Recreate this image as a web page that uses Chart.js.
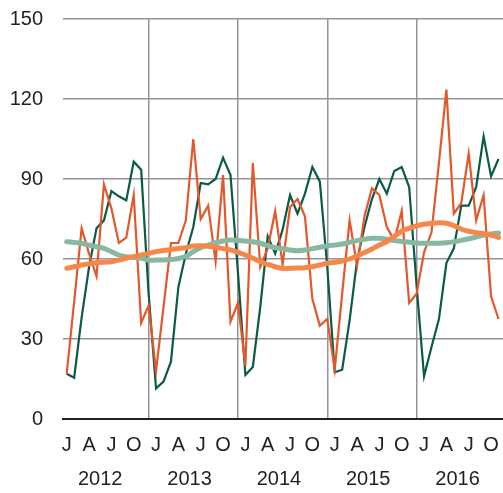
<!DOCTYPE html>
<html>
<head>
<meta charset="utf-8">
<script src="https://cdn.jsdelivr.net/npm/chart.js@4"></script>
<style>
  html, body { margin: 0; padding: 0; background: #ffffff; overflow: hidden; width: 503px; height: 493px; }
  #wrap { width: 520px; height: 493px; }
</style>
</head>
<body>
<div id="wrap"><canvas id="c" width="520" height="493"></canvas></div>
<script>
// ---- Data ----
const monthLetters = ['J','F','M','A','M','J','J','A','S','O','N','D'];
const years = ['2012','2013','2014','2015','2016'];
const months = [];
years.forEach(() => monthLetters.forEach(m => months.push(m)));

const seriesDarkGreen = [17,15.5,38,57,71.5,74.5,85.5,83.5,82,96.5,93.5,47,
  11.5,14,21.5,49.5,62,72,88.5,88,90,98,91.5,55,
  16.5,19.5,42,68.5,62,71,84,77,84.5,94.5,89,57,
  17.5,18.5,37,59.5,72,82.5,90,84.5,93,94.5,87,50,
  16,27,37.5,58.5,64,80,80,87,106,91,97.5,null];

const seriesOrange = [17,44,71.5,62,53.5,88,79,66,68,84,36,42.5,
  18,42,66,66,74.5,105,75,80,59,91.5,36.5,43.5,
  20,96,57,64,78,58,79.5,82.5,76,45,35,37.5,
  18.5,47,74.5,57.5,76,86.5,84,72,67,78,43.5,47,
  62.5,70,96,123.5,77,81,99.5,74.5,84,46,37.5,null];

const trendGreen = [66.5,66.2,65.9,65.2,64.6,64,62.75,61.5,60.9,60.6,60.25,59.6,
  59.6,59.6,59.8,60.2,61,62.75,64.25,65.25,66.1,66.75,67.1,66.9,
  66.75,66.5,65.9,65,64.2,63.9,63.4,63.1,63.4,63.9,64.4,64.9,
  65.25,65.6,66.25,66.9,67.4,67.75,67.75,67.4,66.9,66.6,66.25,66,
  65.9,65.9,65.9,66.1,66.5,67,67.6,68.25,69,69.4,69.75,null];

const trendOrange = [56.5,57.1,57.75,58.2,58.6,58.8,59,59.6,60.25,60.9,61.5,62.1,
  62.75,63.2,63.6,63.9,64.25,64.9,65,64.75,64.4,63.9,63.4,62.5,
  61.5,60.25,59,58,57.1,56.5,56.5,56.6,56.75,57.1,57.75,58.4,
  58.75,59.25,60,61.1,62.4,63.75,65.25,66.5,68.4,70.5,71.5,72.4,
  73,73.4,73.6,73.4,72.5,71.25,70.4,69.9,69.5,69,68.1,null];

const yTicks = [0,30,60,90,120,150];
const yearCenters = [4.5,16.5,28.5,40.5,52.5];

// ---- Chart ----
const font = { family: '"Liberation Sans", Arial, Helvetica, sans-serif', size: 20 };
const gridGray = '#949498';
const textColor = '#231f20';

new Chart(document.getElementById('c'), {
  type: 'line',
  data: {
    labels: months,
    datasets: [
      { data: trendOrange, borderColor: '#f5874a', borderWidth: 5, tension: 0.4, pointRadius: 0, borderCapStyle: 'round', borderJoinStyle: 'round' },
      { data: trendGreen, borderColor: '#88b8a1', borderWidth: 5, tension: 0.4, pointRadius: 0, borderCapStyle: 'round', borderJoinStyle: 'round' },
      { data: seriesOrange, borderColor: '#e4572a', borderWidth: 2.2, tension: 0, pointRadius: 0 },
      { data: seriesDarkGreen, borderColor: '#0b5a43', borderWidth: 2.2, tension: 0, pointRadius: 0 }
    ]
  },
  options: {
    responsive: false,
    animation: false,
    devicePixelRatio: 1,
    layout: { padding: { top: 19, right: 7, bottom: 2, left: 0 } },
    plugins: { legend: { display: false }, tooltip: { enabled: false } },
    scales: {
      x: {
        type: 'category',
        offset: true,
        afterFit: axis => { axis.height = 36; },
        grid: {
          offset: false,
          drawTicks: false,
          lineWidth: 1.5,
          color: ctx => (ctx.index % 12 === 11 ? gridGray : 'rgba(0,0,0,0)')
        },
        border: { display: true, color: textColor, width: 2 },
        ticks: {
          autoSkip: false, maxRotation: 0, minRotation: 0, padding: 14,
          font: font, color: textColor,
          callback: function (value, index) { return index % 3 === 0 ? this.getLabelForValue(value) : ''; }
        }
      },
      xYear: {
        type: 'linear',
        position: 'bottom',
        min: -0.5, max: 59.5,
        afterFit: axis => { axis.height = 36; },
        grid: { display: false, drawTicks: false },
        border: { display: false },
        afterBuildTicks: axis => { axis.ticks = yearCenters.map(v => ({ value: v })); },
        ticks: {
          autoSkip: false, maxRotation: 0, minRotation: 0, padding: 12,
          font: font, color: textColor,
          callback: (value, index) => years[index]
        }
      },
      y: {
        min: 0, max: 150,
        afterFit: axis => { axis.width = 63; axis.paddingTop = 0; axis.paddingBottom = 0; },
        afterBuildTicks: axis => { axis.ticks = yTicks.map(v => ({ value: v })); },
        grid: { drawTicks: false, color: gridGray, lineWidth: 1.5 },
        border: { display: false },
        ticks: { padding: 20, font: font, color: textColor }
      }
    }
  }
});
</script>
</body>
</html>
